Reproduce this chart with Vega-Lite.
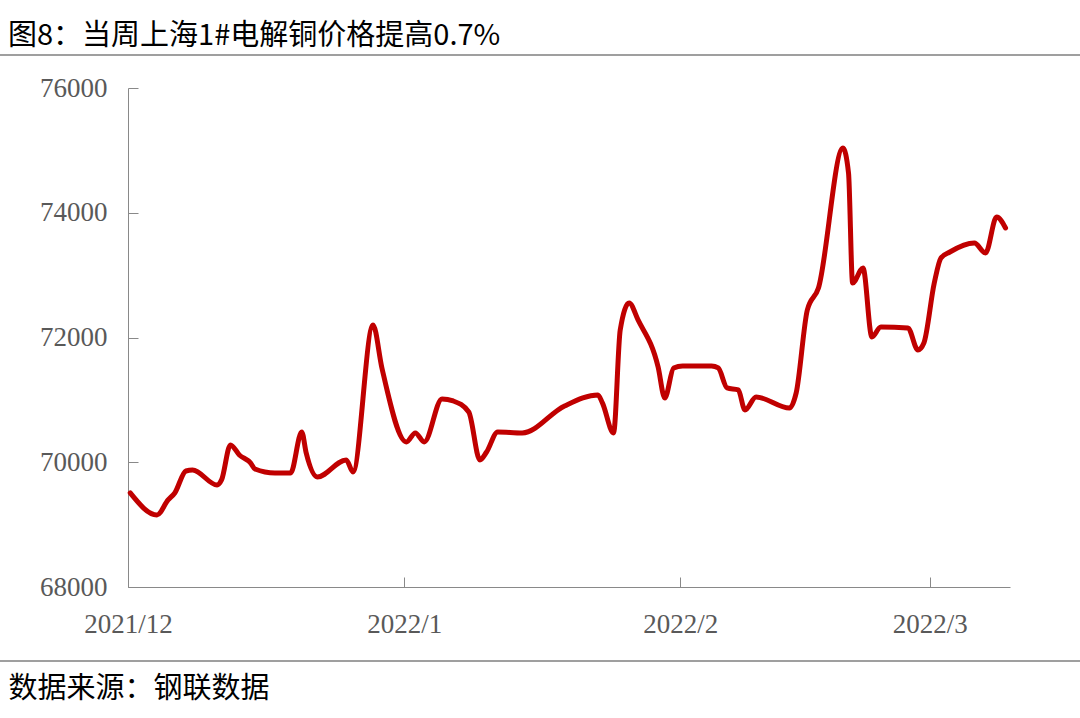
{
  "$schema": "https://vega.github.io/schema/vega-lite/v6.json",
  "autosize": "none",
  "width": 882,
  "height": 499,
  "padding": {"left": 128, "top": 88, "right": 70, "bottom": 131},
  "background": "white",
  "config": {"view": {"stroke": null}},
  "title": {
    "text": "图8：当周上海1#电解铜价格提高0.7%",
    "anchor": "start",
    "frame": "group",
    "dx": -120,
    "offset": -20,
    "baseline": "alphabetic",
    "font": "Noto Sans CJK SC",
    "fontSize": 29,
    "fontWeight": "normal",
    "color": "#000000"
  },
  "layer": [
    {
      "data": {"values": [{}]},
      "mark": {"type": "rule", "color": "#7f7f7f", "strokeWidth": 1.5},
      "encoding": {"x": {"value": -128}, "x2": {"value": 952}, "y": {"value": -33}}
    },
    {
      "data": {"values": [{}]},
      "mark": {"type": "rule", "color": "#7f7f7f", "strokeWidth": 1.5},
      "encoding": {"x": {"value": -128}, "x2": {"value": 952}, "y": {"value": 573}}
    },
    {
      "data": {
        "values": [
          {"date": "2021-12-01T06:00", "price": 69508},
          {"date": "2021-12-04T06:00", "price": 69155},
          {"date": "2021-12-05T12:00", "price": 69395},
          {"date": "2021-12-06T06:00", "price": 69508},
          {"date": "2021-12-07T12:00", "price": 69860},
          {"date": "2021-12-08T06:00", "price": 69876},
          {"date": "2021-12-11T00:00", "price": 69636},
          {"date": "2021-12-11T12:00", "price": 69716},
          {"date": "2021-12-12T12:00", "price": 70278},
          {"date": "2021-12-13T12:00", "price": 70117},
          {"date": "2021-12-14T18:00", "price": 69989},
          {"date": "2021-12-15T06:00", "price": 69892},
          {"date": "2021-12-17T12:00", "price": 69828},
          {"date": "2021-12-19T06:00", "price": 69828},
          {"date": "2021-12-20T12:00", "price": 70486},
          {"date": "2021-12-21T00:00", "price": 70149},
          {"date": "2021-12-22T06:00", "price": 69764},
          {"date": "2021-12-25T12:00", "price": 70037},
          {"date": "2021-12-26T06:00", "price": 69844},
          {"date": "2021-12-28T12:00", "price": 72201},
          {"date": "2021-12-29T12:00", "price": 71512},
          {"date": "2022-01-01T06:00", "price": 70326},
          {"date": "2022-01-02T06:00", "price": 70470},
          {"date": "2022-01-03T06:00", "price": 70326},
          {"date": "2022-01-05T06:00", "price": 71015},
          {"date": "2022-01-06T12:00", "price": 70983},
          {"date": "2022-01-08T06:00", "price": 70806},
          {"date": "2022-01-09T12:00", "price": 70037},
          {"date": "2022-01-10T06:00", "price": 70165},
          {"date": "2022-01-11T12:00", "price": 70486},
          {"date": "2022-01-14T06:00", "price": 70470},
          {"date": "2022-01-19T00:00", "price": 70903},
          {"date": "2022-01-22T18:00", "price": 71079},
          {"date": "2022-01-23T06:00", "price": 70951},
          {"date": "2022-01-24T12:00", "price": 70470},
          {"date": "2022-01-25T06:00", "price": 72121},
          {"date": "2022-01-26T06:00", "price": 72554},
          {"date": "2022-01-27T06:00", "price": 72281},
          {"date": "2022-01-29T12:00", "price": 71528},
          {"date": "2022-01-30T06:00", "price": 71031},
          {"date": "2022-01-31T06:00", "price": 71512},
          {"date": "2022-02-01T06:00", "price": 71544},
          {"date": "2022-02-04T12:00", "price": 71544},
          {"date": "2022-02-05T06:00", "price": 71512},
          {"date": "2022-02-06T06:00", "price": 71191},
          {"date": "2022-02-07T12:00", "price": 71159},
          {"date": "2022-02-08T06:00", "price": 70838},
          {"date": "2022-02-09T12:00", "price": 71047},
          {"date": "2022-02-13T06:00", "price": 70870},
          {"date": "2022-02-14T00:00", "price": 71111},
          {"date": "2022-02-15T06:00", "price": 72441},
          {"date": "2022-02-16T12:00", "price": 72794},
          {"date": "2022-02-19T06:00", "price": 75038},
          {"date": "2022-02-19T21:00", "price": 74637},
          {"date": "2022-02-20T08:00", "price": 72874},
          {"date": "2022-02-21T12:00", "price": 73115},
          {"date": "2022-02-22T12:00", "price": 72009},
          {"date": "2022-02-23T12:00", "price": 72169},
          {"date": "2022-02-26T13:00", "price": 72153},
          {"date": "2022-02-27T16:00", "price": 71800},
          {"date": "2022-02-28T08:00", "price": 71912},
          {"date": "2022-03-01T12:00", "price": 72874},
          {"date": "2022-03-02T06:00", "price": 73275},
          {"date": "2022-03-03T06:00", "price": 73371},
          {"date": "2022-03-06T00:00", "price": 73515},
          {"date": "2022-03-07T06:00", "price": 73355},
          {"date": "2022-03-08T12:00", "price": 73932},
          {"date": "2022-03-09T12:00", "price": 73756}
        ]
      },
      "mark": {"type": "line", "color": "#C00000", "strokeWidth": 5, "interpolate": "monotone", "strokeCap": "round", "strokeJoin": "round"},
      "encoding": {
        "x": {
          "field": "date",
          "type": "temporal",
          "scale": {"domain": [{"year": 2021, "month": 12, "date": 1}, {"year": 2022, "month": 3, "date": 10}]},
          "axis": {
            "format": "%Y/%-m",
            "tickCount": {"interval": "month", "step": 1},
            "grid": false,
            "labelFont": "Liberation Serif",
            "labelFontSize": 27,
            "labelColor": "#595959",
            "labelPadding": 34,
            "labelFlush": false,
            "labelOverlap": false,
            "tickSize": -10,
            "tickColor": "#898989",
            "domainColor": "#898989",
            "title": "数据来源：钢联数据",
            "titleFont": "Noto Sans CJK SC",
            "titleFontSize": 29,
            "titleFontWeight": "normal",
            "titleColor": "#000000",
            "titleAnchor": "start",
            "titleAlign": "left",
            "titleBaseline": "alphabetic",
            "titleX": -120,
            "titleY": 110
          }
        },
        "y": {
          "field": "price",
          "type": "quantitative",
          "scale": {"domain": [68000, 76000], "nice": false, "zero": false},
          "axis": {
            "values": [68000, 70000, 72000, 74000, 76000],
            "format": "d",
            "grid": false,
            "title": null,
            "labelFont": "Liberation Serif",
            "labelFontSize": 27,
            "labelColor": "#595959",
            "labelPadding": 31,
            "tickSize": -10,
            "tickColor": "#898989",
            "domainColor": "#898989"
          }
        }
      }
    }
  ]
}
